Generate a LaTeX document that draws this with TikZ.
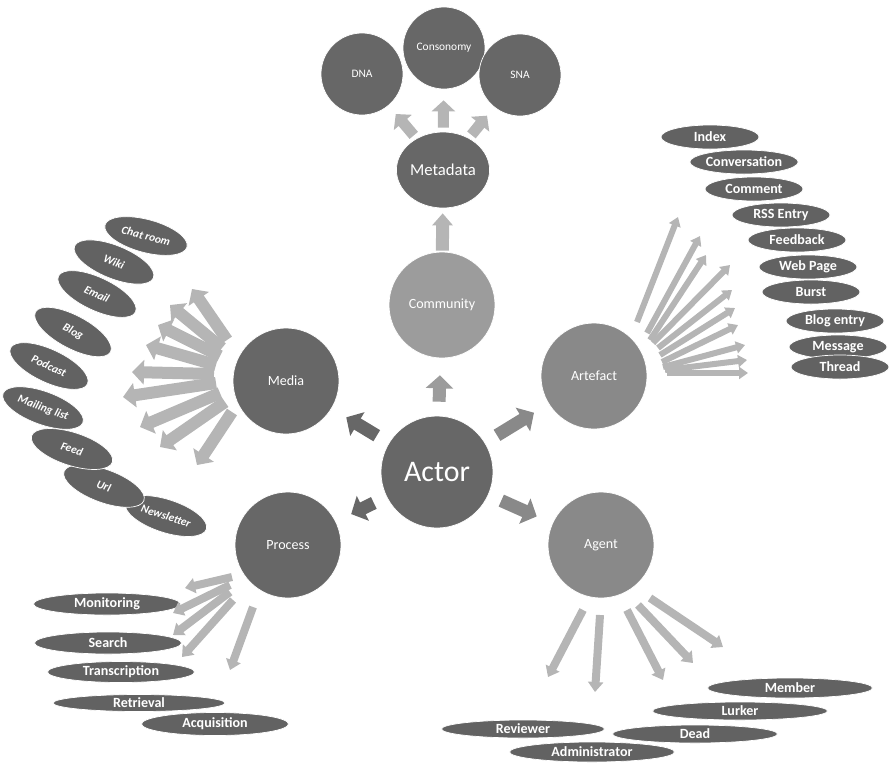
\documentclass[tikz,border=0pt]{standalone}
\usepackage{fontspec}
\setmainfont{Carlito}
\usetikzlibrary{shapes,arrows.meta,calc}

\definecolor{hubgray}{HTML}{676767}
\definecolor{midgray}{HTML}{898989}
\definecolor{commgray}{HTML}{9C9C9C}
\definecolor{itemgray}{HTML}{626262}
\definecolor{fangray}{HTML}{B5B5B5}

\begin{document}
\begin{tikzpicture}[x=0.2mm, y=-0.2mm,
    hub/.style={circle, fill=hubgray, draw=white, text=white, inner sep=0pt},
    topic/.style={hub, minimum size=21.2mm, font=\fontsize{8}{10}\selectfont},
    leaf/.style={hub, minimum size=16.4mm, font=\fontsize{6.5}{8}\selectfont},
    listitem/.style={ellipse, fill=itemgray, draw=white, text=white, inner sep=0pt, font=\bfseries\fontsize{8}{9}\selectfont},
    mediaitem/.style={listitem, minimum width=17mm, minimum height=6.6mm, font=\bfseries\itshape\fontsize{6.5}{8}\selectfont},
    blockarrow/.style={line width=2.6mm, -{Triangle[width=5.4mm,length=2.6mm]}, shorten <=2.8mm, shorten >=3.4mm},
    smallblock/.style={draw=fangray, line width=2.2mm, -{Triangle[width=4.6mm,length=2.2mm]}, shorten <=0.8mm, shorten >=2.2mm},
    mediafan/.style={draw=fangray, line width=2.4mm, -{Triangle[width=4.8mm,length=2.4mm]}},
    midfan/.style={draw=fangray, line width=1.6mm, -{Triangle[width=3mm,length=2mm]}},
    thinfan/.style={draw=fangray, line width=1.2mm, -{Triangle[width=2.4mm,length=1.8mm]}}]

        \useasboundingbox (0,0) rectangle (889,764);

        % Actor
        \node[hub, minimum size=22.4mm, font=\fontsize{17}{20}\selectfont] (actor) at (437,472) {Actor};

        % Topics round the actor
        \node[topic] (media) at (286,381) {Media};
        \node[topic] (process) at (288,545) {Process};
        \node[topic, fill=commgray] (community) at (442,305) {Community};
        \node[topic, fill=midgray] (artefact) at (594,376) {Artefact};
        \node[topic, fill=midgray] (agent) at (601,545) {Agent};

        % Metadata and analyses
        \node[ellipse, fill=hubgray, draw=white, text=white, inner sep=0pt, minimum width=18.6mm, minimum height=15.2mm, font=\fontsize{9.5}{11}\selectfont] (metadata) at (443,170) {Metadata};
        \node[leaf] (consonomy) at (444,48) {Consonomy};
        \node[leaf] (dna) at (362,74) {DNA};
        \node[leaf] (sna) at (520,75) {SNA};

        % Block arrows
        \draw[blockarrow, draw=hubgray] (actor) -- (media);
        \draw[blockarrow, draw=hubgray] (actor) -- (process);
        \draw[blockarrow, draw=commgray] (actor) -- (community);
        \draw[blockarrow, draw=midgray] (actor) -- (artefact);
        \draw[blockarrow, draw=midgray] (actor) -- (agent);
        \draw[blockarrow, draw=fangray, -{Triangle[width=4mm,length=2.4mm]}, shorten <=0.2mm, shorten >=1mm] (community) -- (metadata);
        \foreach \leafname in {dna,consonomy,sna} {
            \draw[smallblock] (metadata) -- (\leafname);
        }

        % Media items
        \foreach \name/\x/\y/\ang/\txt in {news/166/516/-18/Newsletter, url/104/486/-20/Url, feed/72/449/-18/Feed,
            mail/43/408/-20/Mailing list, podcast/49/366/-25/Podcast, blog/73/332/-28/Blog,
            email/97/294/-25/Email, wiki/114/262/-22/Wiki, chat/146/236/-15/Chat room} {
            \node[mediaitem, rotate=\ang] (\name) at (\x,\y) {\txt};
        }
        \foreach \ax/\ay/\bx/\by in {-59/-41/-94/-92, -64/-33/-116/-76, -66/-25/-128/-56, -70/-16/-140/-36,
            -72/-7/-154/-9, -70/2/-163/16, -66/12/-146/46, -61/21/-126/66, -54/31/-89/84} {
            \draw[mediafan] ([shift={(\ax,\ay)}]media.center) -- ([shift={(\bx,\by)}]media.center);
        }

        % Artefact items
        \foreach \name/\x/\y/\txt in {index/710/137/Index, conv/744/162/Conversation, comment/754/189/Comment,
            rss/781/215/RSS Entry, feedback/797/240/Feedback, webpage/808/267/Web Page, burst/811/292/Burst,
            blogentry/835/321/Blog entry, message/838/347/Message, thread/840/367/Thread} {
            \node[listitem, minimum width=19.6mm, minimum height=4.8mm] (\name) at (\x,\y) {\txt};
        }
        \foreach \ax/\ay/\bx/\by in {43/-54/84/-159, 53/-43/106/-140, 56/-36/112/-121, 59/-33/136/-111,
            64/-28/138/-86, 66/-21/141/-68, 68/-14/144/-51, 69/-9/151/-31, 71/-6/153/-16, 73/-3/154/-3} {
            \draw[thinfan] ([shift={(\ax,\ay)}]artefact.center) -- ([shift={(\bx,\by)}]artefact.center);
        }

        % Process items
        \node[listitem, minimum width=29.4mm, minimum height=4.4mm] (monitoring) at (107,604) {Monitoring};
        \node[listitem, minimum width=29.4mm, minimum height=4.4mm] (search) at (108,643) {Search};
        \node[listitem, minimum width=29.4mm, minimum height=4.2mm] (transcription) at (121,672) {Transcription};
        \node[listitem, minimum width=34.4mm, minimum height=3.4mm] (retrieval) at (139,703) {Retrieval};
        \node[listitem, minimum width=29.4mm, minimum height=4.6mm] (acquisition) at (215,724) {Acquisition};
        \foreach \ax/\ay/\bx/\by in {-56/32/-103/43, -58/40/-115/68, -58/47/-115/90, -55/55/-106/112, -35/62/-58/125} {
            \draw[midfan] ([shift={(\ax,\ay)}]process.center) -- ([shift={(\bx,\by)}]process.center);
        }

        % Agent items
        \node[listitem, minimum width=33mm, minimum height=4mm] (member) at (790,688) {Member};
        \node[listitem, minimum width=35mm, minimum height=3.6mm] (lurker) at (740,711) {Lurker};
        \node[listitem, minimum width=33mm, minimum height=3.6mm] (dead) at (695,734) {Dead};
        \node[listitem, minimum width=32.6mm, minimum height=3.6mm] (reviewer) at (523,729) {Reviewer};
        \node[listitem, minimum width=33mm, minimum height=4mm] (admin) at (592,752) {Administrator};
        \foreach \ax/\ay/\bx/\by in {-18/65/-53/132, -1/70/-6/147, 26/65/62/135, 37/60/92/118, 49/53/122/102} {
            \draw[midfan] ([shift={(\ax,\ay)}]agent.center) -- ([shift={(\bx,\by)}]agent.center);
        }
\end{tikzpicture}
\end{document}
